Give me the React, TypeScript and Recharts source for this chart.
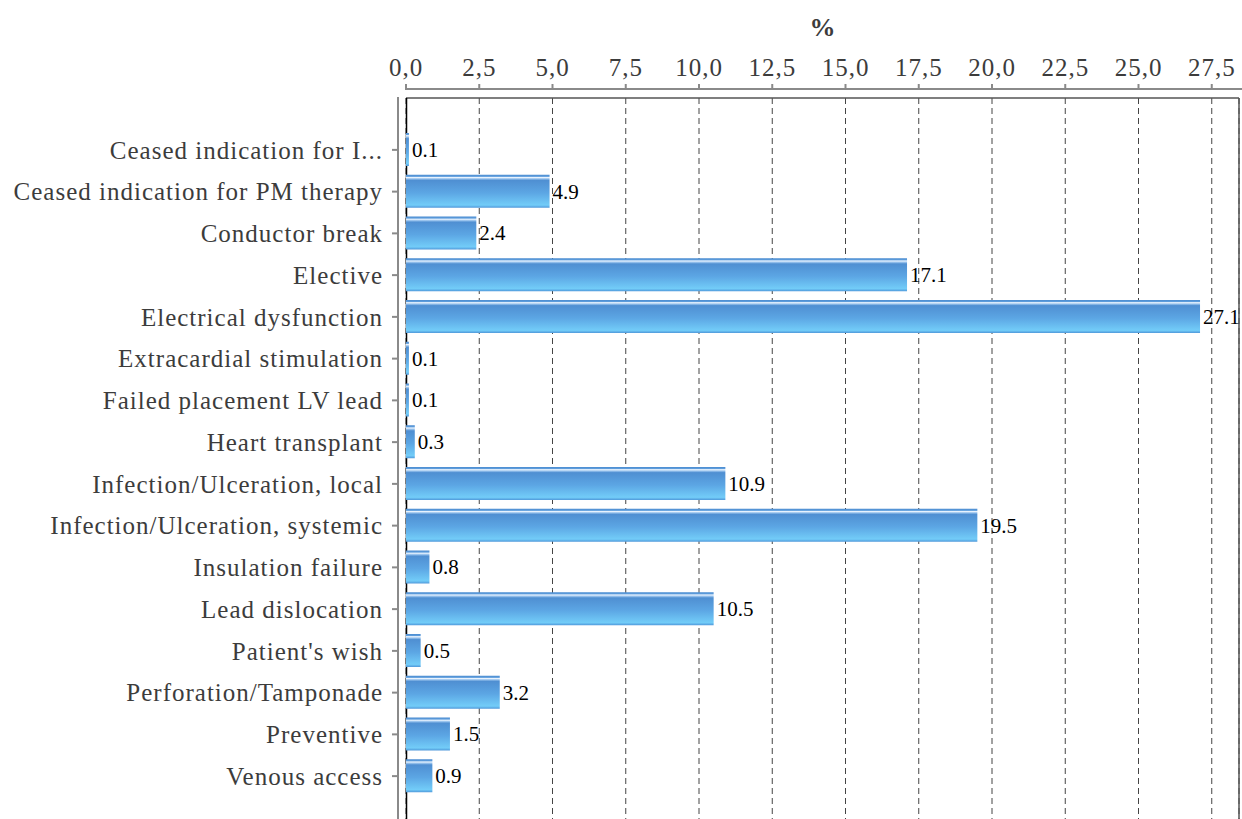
import { Bar, BarChart, CartesianGrid, LabelList, XAxis, YAxis, usePlotArea } from "recharts";

const reasons = [
  "Ceased indication for I...",
  "Ceased indication for PM therapy",
  "Conductor break",
  "Elective",
  "Electrical dysfunction",
  "Extracardial stimulation",
  "Failed placement LV lead",
  "Heart transplant",
  "Infection/Ulceration, local",
  "Infection/Ulceration, systemic",
  "Insulation failure",
  "Lead dislocation",
  "Patient's wish",
  "Perforation/Tamponade",
  "Preventive",
  "Venous access",
];

const percents = [0.1, 4.9, 2.4, 17.1, 27.1, 0.1, 0.1, 0.3, 10.9, 19.5, 0.8, 10.5, 0.5, 3.2, 1.5, 0.9];

const percentTicks = [0, 2.5, 5, 7.5, 10, 12.5, 15, 17.5, 20, 22.5, 25, 27.5];

const data = reasons.map((reason, i) => ({ reason, value: percents[i] }));

const FONT = '"Liberation Serif", "Times New Roman", serif';
const AXIS_GREY = "#8a8a8a";
const TEXT_GREY = "#3c3c3c";

function TopTick({ x, y, payload }: any) {
  return (
    <g>
      <line x1={x} x2={x} y1={y - 14} y2={y - 8} stroke={AXIS_GREY} strokeWidth={2} />
      <text
        x={x}
        y={y - 22}
        textAnchor="middle"
        fontFamily={FONT}
        fontSize={25}
        letterSpacing={1}
        fill={TEXT_GREY}
      >
        {payload.value.toFixed(1).replace(".", ",")}
      </text>
    </g>
  );
}

function LeftTick({ x, y, payload }: any) {
  return (
    <g>
      <line x1={x - 14} x2={x - 8} y1={y} y2={y} stroke={AXIS_GREY} strokeWidth={2} />
      <text
        x={x - 23}
        y={y}
        dy="0.35em"
        textAnchor="end"
        fontFamily={FONT}
        fontSize={25}
        letterSpacing={1}
        fill={TEXT_GREY}
      >
        {payload.value}
      </text>
    </g>
  );
}

// grey axis lines sit a few pixels outside the bordered plot box
function Frame() {
  const plot = usePlotArea();
  if (!plot) return null;
  const { x, y, width, height } = plot;
  return (
    <g>
      <line x1={x} x2={x + width + 3} y1={y - 9} y2={y - 9} stroke={AXIS_GREY} strokeWidth={2} />
      <line x1={x - 8} x2={x - 8} y1={y - 1} y2={y + height} stroke={AXIS_GREY} strokeWidth={2} />
      <line x1={x} x2={x + width} y1={y} y2={y} stroke="#555" strokeWidth={1.5} />
      <line x1={x + 0.5} x2={x + 0.5} y1={y} y2={y + height} stroke="#000" strokeWidth={1.5} />
      <line x1={x + width} x2={x + width} y1={y} y2={y + height} stroke="#555" strokeWidth={1.5} />
      <text
        x={x + width / 2}
        y={y - 62}
        textAnchor="middle"
        fontFamily={FONT}
        fontSize={26}
        fontWeight="bold"
        fill={TEXT_GREY}
      >
        %
      </text>
    </g>
  );
}

export default function App() {
  return (
    <div style={{ position: "absolute", left: 0, top: 0, width: 1242, height: 819, overflow: "hidden", background: "#fff" }}>
      <BarChart
        width={1242}
        height={830}
        data={data}
        layout="vertical"
        margin={{ top: 0, right: 3, bottom: 2, left: 0 }}
      >
        <defs>
          <linearGradient id="barFill" x1="0" y1="0" x2="0" y2="1">
            <stop offset="0%" stopColor="#4a8bd0" />
            <stop offset="5%" stopColor="#5e9ddc" />
            <stop offset="8%" stopColor="#eef6ff" />
            <stop offset="12%" stopColor="#9cc5ee" />
            <stop offset="17%" stopColor="#4f8fd2" />
            <stop offset="55%" stopColor="#5ca6e4" />
            <stop offset="92%" stopColor="#72ccf8" />
            <stop offset="100%" stopColor="#4f98da" />
          </linearGradient>
        </defs>
        <CartesianGrid horizontal={false} stroke="#444" strokeDasharray="6 4" />
        <XAxis
          type="number"
          orientation="top"
          domain={[0, 28.43]}
          ticks={percentTicks}
          height={98}
          axisLine={false}
          tickLine={false}
          tickSize={0}
          tickMargin={0}
          tick={<TopTick />}
          allowDataOverflow
        />
        <YAxis
          type="category"
          dataKey="reason"
          width={406}
          axisLine={false}
          tickLine={false}
          tickSize={0}
          tickMargin={0}
          tick={<LeftTick />}
          interval={0}
          padding={{ top: 31, bottom: 31 }}
        />
        <Bar dataKey="value" fill="url(#barFill)" barSize={33} isAnimationActive={false}>
          <LabelList
            dataKey="value"
            position="right"
            offset={3}
            fontFamily={FONT}
            fontSize={21}
            fill="#000"
            formatter={(v: any) => Number(v).toFixed(1)}
          />
        </Bar>
        <Frame />
      </BarChart>
    </div>
  );
}
